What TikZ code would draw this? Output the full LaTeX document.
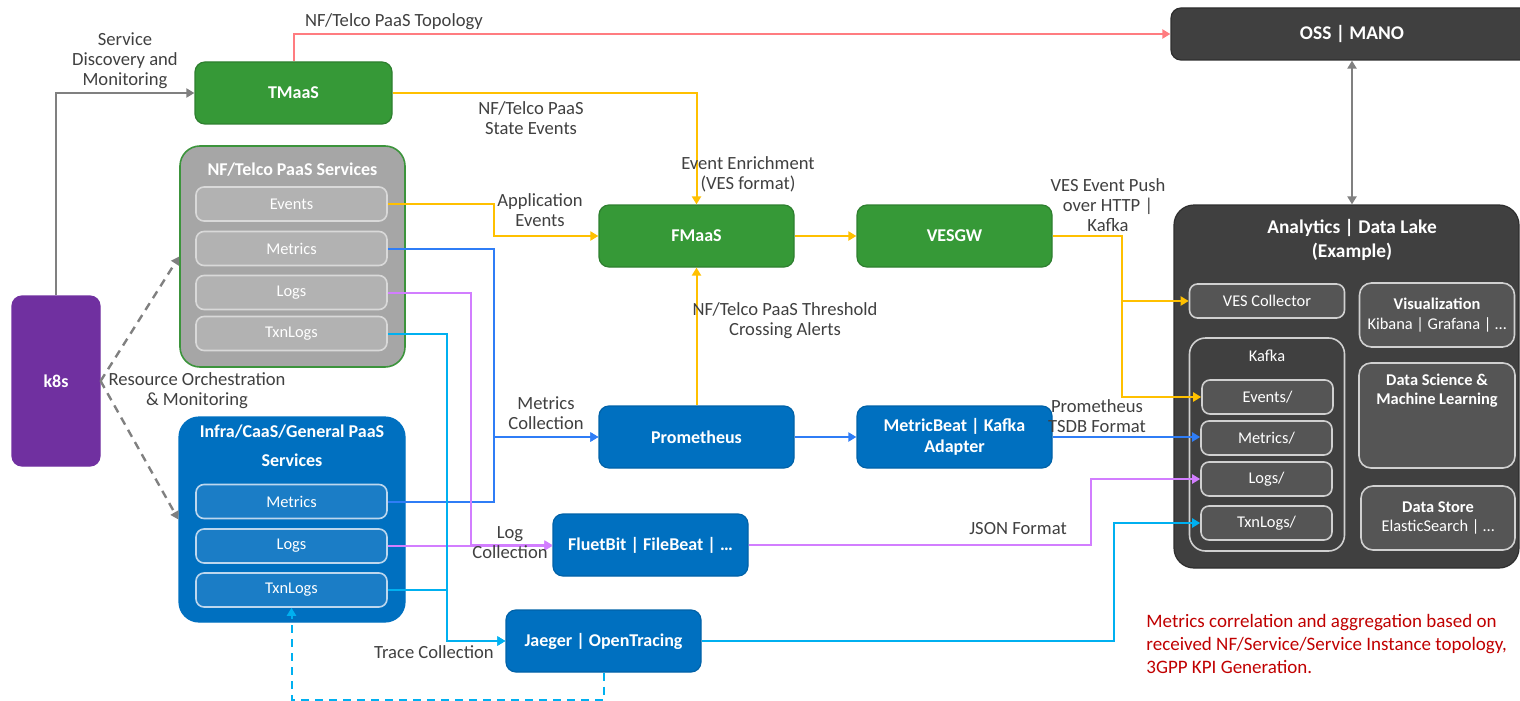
\documentclass[tikz,border=0pt]{standalone}
\usepackage{fontspec}
\setmainfont{Carlito}
\usetikzlibrary{arrows.meta,calc}
\definecolor{cgreen}{HTML}{369937}
\definecolor{cgreenD}{HTML}{2E7F2F}
\definecolor{cblue}{HTML}{0070C0}
\definecolor{cblueD}{HTML}{0062A8}
\definecolor{cdark}{HTML}{404040}
\definecolor{cdarkD}{HTML}{2E2E2E}
\definecolor{cdin}{HTML}{555555}
\definecolor{cdinD}{HTML}{D0D0D0}
\definecolor{cnf}{HTML}{A6A6A6}
\definecolor{cnfD}{HTML}{3C943C}
\definecolor{cnfin}{HTML}{B2B2B2}
\definecolor{cnfinD}{HTML}{D9D9D9}
\definecolor{cinin}{HTML}{1B7DC6}
\definecolor{cininD}{HTML}{BDD7EE}
\definecolor{cpurple}{HTML}{7030A0}
\definecolor{cyel}{HTML}{FFC000}
\definecolor{cblu}{HTML}{2F7DF6}
\definecolor{cvio}{HTML}{D27EFF}
\definecolor{ccya}{HTML}{00B0F0}
\definecolor{cred}{HTML}{FF7C80}
\definecolor{cgrey}{HTML}{808080}
\definecolor{ctext}{HTML}{404040}
\definecolor{cnote}{HTML}{C00000}
\newcommand{\fsz}[2]{\fontsize{#1}{#2}\selectfont}
\begin{document}
\begin{tikzpicture}[x=0.5pt,y=-0.5pt,
  sz/.style 2 args={minimum width=#1*0.5pt, minimum height=#2*0.5pt},
  nbox/.style={draw, rounded corners=5pt, align=center, text=white, inner sep=1pt, line width=0.6pt},
  gbox/.style={nbox, fill=cgreen, draw=cgreenD, font=\bfseries\fsz{9}{10.5}},
  bbox/.style={nbox, fill=cblue, draw=cblueD, font=\bfseries\fsz{9}{10.5}},
  kbox/.style={nbox, fill=cpurple, draw=cpurple, font=\bfseries\fsz{9}{10.5}},
  dbox/.style={nbox, fill=cdark, draw=cdarkD, font=\bfseries\fsz{9.7}{12}},
  subbox/.style={nbox, rounded corners=4pt, font=\fsz{8.2}{9.6}, line width=0.8pt},
  nfsub/.style={subbox, fill=cnfin, draw=cnfinD},
  insub/.style={subbox, fill=cinin, draw=cininD},
  dsub/.style={subbox, fill=cdin, draw=cdinD},
  ttl/.style={text=white, font=\bfseries\fsz{9}{10.5}, align=center, inner sep=0},
  lbl/.style={text=ctext, font=\fsz{9.3}{10}, align=center, inner sep=0},
  conn/.style={line width=1pt, -{Triangle[width=4.5pt,length=4pt]}},
  dashline/.style={dash pattern=on 4pt off 3pt}
]
\useasboundingbox (0,0) rectangle (1520,701);
\clip (0,0) rectangle (1520,701);

% containers
\node[nbox, rounded corners=10pt, fill=cnf, draw=cnfD, line width=0.8pt, sz={225}{221}] (nfc) at (292.5,256.5) {};
\node[ttl] (nft) at (292.5,170) {NF/Telco PaaS Services};
\node[nfsub, sz={191}{34}] (nfev) at (291.5,204) {Events};
\node[nfsub, sz={191}{34}] (nfmet) at (291.5,248.5) {Metrics};
\node[nfsub, sz={191}{34}] (nflog) at (291.5,292.5) {Logs};
\node[nfsub, sz={191}{34}] (nftx) at (291.5,333.5) {TxnLogs};

\node[nbox, rounded corners=10pt, fill=cblue, draw=cblue, sz={226}{205}] (inc) at (292,519.5) {};
\node[ttl, font=\bfseries\fsz{9}{14.5}] (int) at (292,445.5) {Infra/CaaS/General PaaS\\Services};
\node[insub, sz={191}{34}] (inmet) at (291.5,501.5) {Metrics};
\node[insub, sz={191}{34}] (inlog) at (291.5,546) {Logs};
\node[insub, sz={191}{34}] (intx) at (291.5,590) {TxnLogs};

\node[dbox, rounded corners=10pt, sz={345}{363}] (ana) at (1346.5,386.5) {};
\node[ttl, font=\bfseries\fsz{9.7}{12}] (anat) at (1352,240) {Analytics | Data Lake\\(Example)};
\node[dsub, sz={155}{34}] (vesc) at (1267,301) {VES Collector};
\node[subbox, rounded corners=8pt, fill=cdark, draw=cdinD, sz={155}{213}] (kaf) at (1267,444.5) {};
\node[ttl, font=\fsz{8.2}{9.6}] (kaft) at (1267,356) {Kafka};
\node[dsub, sz={131}{34}] (kev) at (1267.5,397) {Events/};
\node[dsub, sz={131}{34}] (kmet) at (1266.5,438) {Metrics/};
\node[dsub, sz={131}{34}] (klog) at (1266.5,479) {Logs/};
\node[dsub, sz={131}{34}] (ktx) at (1266.5,523) {TxnLogs/};
\node[dsub, rounded corners=6pt, sz={155}{64}] (vis) at (1437,315) {\textbf{Visualization}\\Kibana | Grafana | …};
\node[dsub, rounded corners=6pt, sz={156}{105}] (dsci) at (1437,415.5) {};
\node[ttl, font=\bfseries\fsz{8.2}{9.6}] (dscit) at (1437,390.5) {Data Science \&\\Machine Learning};
\node[dsub, rounded corners=6pt, sz={154}{64}] (dst) at (1438,518) {\textbf{Data Store}\\ElasticSearch | …};

% boxes
\node[gbox, sz={197}{62}] (tmaas) at (293.5,93) {TMaaS};
\node[dbox, sz={362}{52}] (oss) at (1352,34) {OSS | MANO};
\node[gbox, sz={195}{62}] (fmaas) at (696.5,236) {FMaaS};
\node[gbox, sz={195}{62}] (vesgw) at (954.5,236) {VESGW};
\node[bbox, sz={195}{62}] (prom) at (696.5,437) {Prometheus};
\node[bbox, sz={195}{62}] (mb) at (954.5,437) {MetricBeat | Kafka\\Adapter};
\node[bbox, sz={195}{62}] (fb) at (650.5,545) {FluetBit | FileBeat | …};
\node[bbox, sz={195}{62}] (jae) at (603.5,641) {Jaeger | OpenTracing};
\node[kbox, sz={88}{170}] (k8s) at (56,381) {k8s};

% connectors
\draw[conn, cred] (tmaas.north) |- (oss.west);
\draw[conn, cgrey, line width=1.2pt] (k8s.north) |- (tmaas.west);
\draw[conn, cyel] (tmaas.east) -| (fmaas.north);
\draw[conn, cyel] (nfev.east) -- ++(106,0) |- (fmaas.west);
\draw[conn, cyel] (prom.north) -- (fmaas.south);
\draw[conn, cyel] (fmaas.east) -- (vesgw.west);
\draw[conn, cyel] (vesgw.east) -- ++(69,0) |- (vesc.west);
\draw[conn, cyel] (vesgw.east) -- ++(69,0) |- (kev.west);
\draw[conn, cblu] (nfmet.east) -- ++(106,0) |- (prom.west);
\draw[conn, cblu] (inmet.east) -- ++(106,0) |- (prom.west);
\draw[conn, cblu] (prom.east) -- (mb.west);
\draw[conn, cblu] (mb.east) -- (mb.east -| kmet.west);
\draw[conn, cvio] (nflog.east) -- ++(83,0) |- (fb.west);
\draw[conn, cvio] (inlog.east) -- (inlog.east -| fb.west);
\draw[conn, cvio] (fb.east) -- ++(342,0) |- (klog.west);
\draw[conn, ccya] (nftx.east) -- ++(59,0) |- (jae.west);
\draw[conn, ccya] (intx.east) -- ++(59,0) |- (jae.west);
\draw[conn, ccya] (jae.east) -- ++(412,0) |- (ktx.west);
\draw[conn, ccya, dashline] (jae.south) -- ++(0,27) -| (intx.south);
\draw[conn, cgrey, dashline, line width=1.2pt] (k8s.east) -- (nfc.west);
\draw[conn, cgrey, dashline, line width=1.2pt] (k8s.east) -- (inc.west);
\draw[cgrey, line width=1.2pt, {Triangle[width=4.5pt,length=4pt]}-{Triangle[width=4.5pt,length=4pt]}] (oss.south) -- (oss.south |- ana.north);

% labels
\node[lbl] (l1) at (394,22) {NF/Telco PaaS Topology};
\node[lbl] (l2) at (125,61) {Service\\Discovery and\\Monitoring};
\node[lbl] (l3) at (531,118.5) {NF/Telco PaaS\\State Events};
\node[lbl] (l4) at (748,174) {Event Enrichment\\(VES format)};
\node[lbl] (l5) at (540,210.5) {Application\\Events};
\node[lbl] (l6) at (1108,205.5) {VES Event Push\\over HTTP |\\Kafka};
\node[lbl] (l7) at (785,321) {NF/Telco PaaS Threshold\\Crossing Alerts};
\node[lbl] (l8) at (546,413) {Metrics\\Collection};
\node[lbl] (l9) at (1097,416.5) {Prometheus\\TSDB Format};
\node[lbl] (l10) at (197,391) {Resource Orchestration\\\& Monitoring};
\node[lbl] (l11) at (510,542.5) {Log\\Collection};
\node[lbl] (l12) at (434,652) {Trace Collection};
\node[lbl] (l13) at (1018,529) {JSON Format};
\node[lbl, text=cnote, font=\fsz{9.5}{11.7}, align=left, anchor=west] (note) at (1146,644) {Metrics correlation and aggregation based on\\received NF/Service/Service Instance topology,\\3GPP KPI Generation.};
\end{tikzpicture}
\end{document}
